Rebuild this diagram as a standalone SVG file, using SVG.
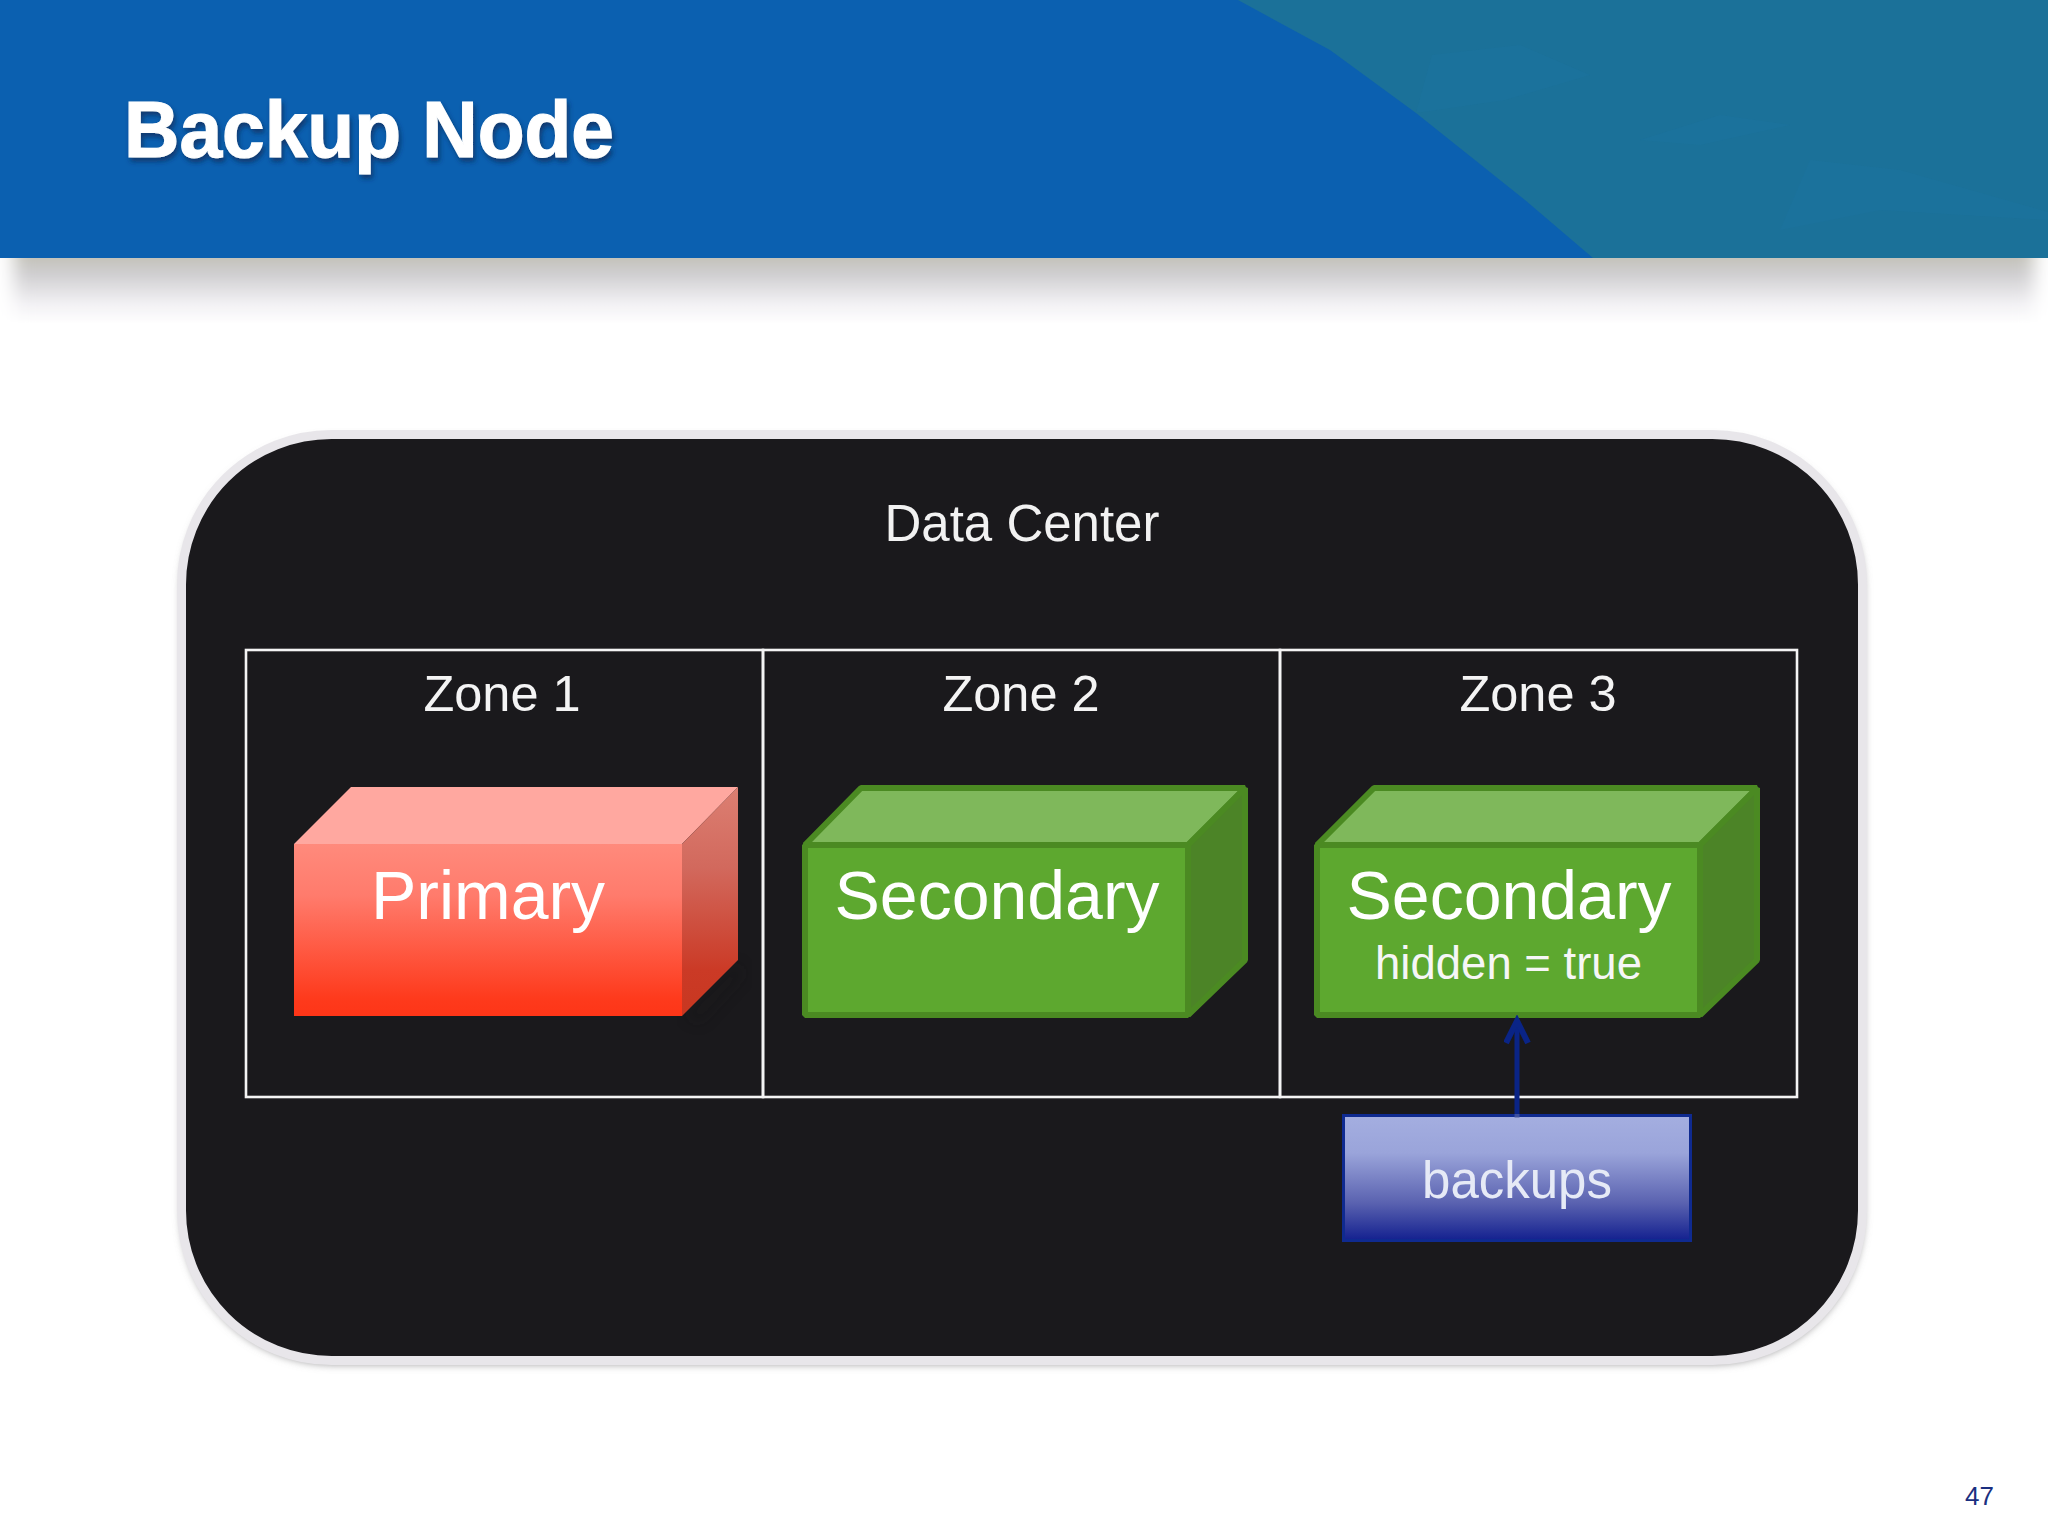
<svg xmlns="http://www.w3.org/2000/svg" width="2048" height="1536" viewBox="0 0 2048 1536">
<style>
text{font-family:"Liberation Sans",Arial,sans-serif}
.zone{font-size:50.500px;text-anchor:middle;fill:#f4f4f4}
.big{font-size:68px;text-anchor:middle;fill:#fff}
.gf{fill:#5da82f}.gt{fill:#7fb85b}.gr{fill:#4c8427}
.gs{stroke:#4b8a22;stroke-width:6;stroke-linejoin:bevel}
.zl{fill:none;stroke:#f4f4f4;stroke-width:2.600}
.hl{fill:#2079a8;opacity:.2}
</style>
<defs>
<linearGradient id="redFront" x1="0" y1="0" x2="0" y2="1"><stop offset="0" stop-color="#ff8a7c"/><stop offset=".3" stop-color="#ff7b6c"/><stop offset=".9" stop-color="#fe3a1c"/><stop offset="1" stop-color="#fe3517"/></linearGradient>
<linearGradient id="redSide" x1="0" y1="0" x2="0" y2="1"><stop offset="0" stop-color="#dc7f72"/><stop offset=".35" stop-color="#d2695d"/><stop offset=".8" stop-color="#cb3a26"/><stop offset="1" stop-color="#c83720"/></linearGradient>
<linearGradient id="blueFill" x1="0" y1="0" x2="0" y2="1"><stop offset="0" stop-color="#a4aee0"/><stop offset=".3" stop-color="#9aa4da"/><stop offset=".7" stop-color="#5a62b0"/><stop offset="1" stop-color="#13208f"/></linearGradient>
<linearGradient id="headerShadow" x1="0" y1="0" x2="0" y2="1"><stop offset="0" stop-color="#c4c3bb"/><stop offset=".25" stop-color="#d0cfd1"/><stop offset=".7" stop-color="#f2f1f4"/><stop offset="1" stop-color="#fff"/></linearGradient>
<filter id="titleShadow" x="-5%" y="-20%" width="110%" height="150%"><feDropShadow dx="2" dy="4" stdDeviation="2.500" flood-color="#0a2a55" flood-opacity=".7"/></filter>
<filter id="soft" x="-10%" y="-20%" width="120%" height="140%"><feGaussianBlur stdDeviation="7"/></filter>
<filter id="sideBlur" x="-2%" y="0" width="104%" height="100%"><feGaussianBlur stdDeviation="9 0"/></filter>
<filter id="panelShadow" x="-3%" y="-3%" width="106%" height="106%"><feGaussianBlur stdDeviation="4"/></filter>
<marker id="arrow" markerUnits="userSpaceOnUse" markerWidth="30" markerHeight="30" refX="24" refY="13" orient="auto"><path d="M2 2L24 13L2 24" fill="none" stroke="#0a2486" stroke-width="6"/></marker>
</defs>

<rect width="2048" height="1536" fill="#fff"/>

<g id="header">
<rect x="14" y="258" width="2020" height="66" fill="url(#headerShadow)" filter="url(#sideBlur)"/>
<rect width="2048" height="258" fill="#0b60b0"/>
<path d="M1238 0H2048V258H1593L1525 200L1416 113L1330 50Z" fill="#1b7199"/>
<path class="hl" d="M1416 113L1432 55L1520 45L1590 75L1505 100Z"/>
<path class="hl" d="M1640 140L1720 115L1790 125L1700 145Z"/>
<path class="hl" d="M1780 230L1810 160L1900 170L2048 212V220L1880 210Z"/>
<text x="124" y="157" font-size="80" font-weight="700" textLength="490" lengthAdjust="spacingAndGlyphs" fill="#fff" stroke="#fff" stroke-width="1.200" filter="url(#titleShadow)">Backup Node</text>
</g>

<g id="data-center">
<rect x="181.500" y="438" width="1682" height="926" rx="150" fill="#8f8e90" filter="url(#panelShadow)"/>
<rect x="181.500" y="434.500" width="1681" height="926" rx="150" fill="#1a191c" stroke="#e8e6ea" stroke-width="9"/>
<text x="1022" y="541" font-size="51" text-anchor="middle" fill="#f2f2f2">Data Center</text>
</g>

<g id="zone-1"><rect class="zl" x="246" y="650" width="517" height="447"/><text class="zone" x="502" y="711">Zone 1</text></g>
<g id="zone-2"><rect class="zl" x="763" y="650" width="517" height="447"/><text class="zone" x="1021" y="711">Zone 2</text></g>
<g id="zone-3"><rect class="zl" x="1280" y="650" width="517" height="447"/><text class="zone" x="1538" y="711">Zone 3</text></g>

<g id="primary">
<path d="M684 1016L738 962L745 975L700 1024Z" fill="#121212" opacity=".25" filter="url(#soft)"/>
<path d="M294 844L351 787H738L682 844Z" fill="#ffa8a0"/>
<path d="M682 844L738 787V960L682 1016Z" fill="url(#redSide)"/>
<rect x="294" y="844" width="388" height="172" fill="url(#redFront)"/>
<text class="big" x="488" y="919">Primary</text>
</g>

<g id="secondary-2">
<path d="M805 845L861 788H1245L1188 845Z" class="gt gs"/>
<path d="M1188 845L1245 788V960L1188 1015Z" class="gr gs"/>
<rect x="805" y="845" width="383" height="170" class="gf gs"/>
<text class="big" x="997" y="919">Secondary</text>
</g>

<g id="secondary-3">
<path d="M1317 845L1374 788H1757L1700 845Z" class="gt gs"/>
<path d="M1700 845L1757 788V960L1700 1015Z" class="gr gs"/>
<rect x="1317" y="845" width="383" height="170" class="gf gs"/>
<text class="big" x="1509" y="919">Secondary</text>
<text x="1508.500" y="979" font-size="45.500" text-anchor="middle" fill="#f6f6f6">hidden = true</text>
</g>

<g id="connectors">
<line x1="1517" y1="1118" x2="1517" y2="1021" stroke="#0a2486" stroke-width="5" marker-end="url(#arrow)"/>
</g>

<g id="backups">
<rect x="1343.500" y="1115.500" width="347" height="125" fill="url(#blueFill)" stroke="#0f2a90" stroke-width="3"/>
<line x1="1517" y1="1114" x2="1517" y2="1118" stroke="#5a68a8" stroke-width="5" opacity=".6"/>
<text x="1517" y="1198" font-size="51" text-anchor="middle" fill="#e6eaf6">backups</text>
</g>

<text id="page-number" x="1965" y="1505" font-size="26" fill="#1a2f80">47</text>
</svg>
